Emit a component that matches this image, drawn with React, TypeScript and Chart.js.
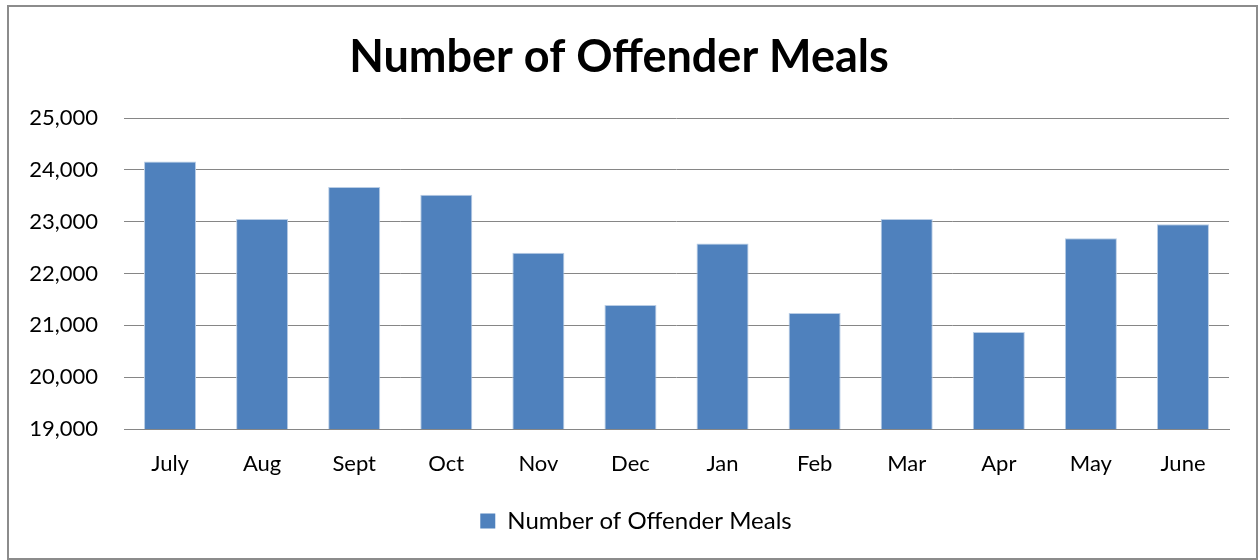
import React, { useEffect, useRef } from "react";
import { Chart, registerables } from "chart.js";

Chart.register(...registerables);

const TITLE = "Number of Offender Meals";
const SERIES_LABEL = "Number of Offender Meals";
const MONTHS = ["July", "Aug", "Sept", "Oct", "Nov", "Dec", "Jan", "Feb", "Mar", "Apr", "May", "June"];
const MEALS = [24160, 23050, 23670, 23520, 22400, 21390, 22580, 21240, 23050, 20870, 22680, 22950];
const Y_MIN = 19000;
const Y_MAX = 25000;
const Y_STEP = 1000;

const FONT = "Lato, 'Open Sans', sans-serif";

const legendShift = {
  id: "legendShift",
  beforeDraw(chart: any) {
    const lg = chart.legend;
    if (lg && !lg.__shifted) {
      lg.left += 17;
      lg.right += 17;
      lg.__shifted = true;
    }
  },
};

export default function App() {
  const canvasRef = useRef<HTMLCanvasElement | null>(null);

  useEffect(() => {
    if (!canvasRef.current) return;
    const chart = new Chart(canvasRef.current, {
      type: "bar",
      data: {
        labels: MONTHS,
        datasets: [
          {
            label: SERIES_LABEL,
            data: MEALS,
            backgroundColor: "#4f81bd",
            borderColor: "#b9cde5",
            borderWidth: 1,
            barPercentage: 0.565,
            categoryPercentage: 1,
          },
        ],
      },
      plugins: [legendShift],
      options: {
        animation: false,
        responsive: false,
        maintainAspectRatio: false,
        layout: { padding: { left: 0, right: 27, top: 0, bottom: 15 } },
        plugins: {
          tooltip: { enabled: false },
          title: {
            display: true,
            text: TITLE,
            color: "#000",
            font: { family: FONT, size: 45, weight: "bold", lineHeight: 1.2 },
            padding: { top: 23, bottom: 34 },
          },
          legend: {
            display: true,
            position: "bottom",
            labels: {
              color: "#000",
              font: { family: FONT, size: 24 },
              boxWidth: 15,
              boxHeight: 15,
              padding: 11,
              generateLabels: (c: any) =>
                Chart.defaults.plugins.legend.labels.generateLabels(c).map((l: any) => ({
                  ...l,
                  strokeStyle: "#4f81bd",
                  lineWidth: 0,
                })),
            },
          },
        },
        scales: {
          x: {
            grid: { display: false, drawTicks: false },
            border: { display: true, color: "#868686" },
            ticks: { color: "#000", font: { family: FONT, size: 22 }, padding: 22, maxRotation: 0 },
            afterFit: (s: any) => {
              s.height = 69;
            },
          },
          y: {
            min: Y_MIN,
            max: Y_MAX,
            grid: { color: "#868686", lineWidth: 1, drawTicks: false },
            border: { display: false },
            ticks: {
              stepSize: Y_STEP,
              color: "#000",
              font: { family: FONT, size: 22 },
              padding: 26,
              callback: (v: any) => Number(v).toLocaleString("en-US"),
            },
            afterFit: (s: any) => {
              s.width = 115;
            },
          },
        },
      },
    });
    return () => chart.destroy();
  }, []);

  return (
    <div
      style={{
        position: "absolute",
        left: 7,
        top: 5,
        width: 1251,
        height: 555,
        border: "2px solid #8c8c8c",
        boxSizing: "border-box",
        background: "#fff",
      }}
    >
      <canvas ref={canvasRef} width={1247} height={551} style={{ display: "block" }} />
    </div>
  );
}
